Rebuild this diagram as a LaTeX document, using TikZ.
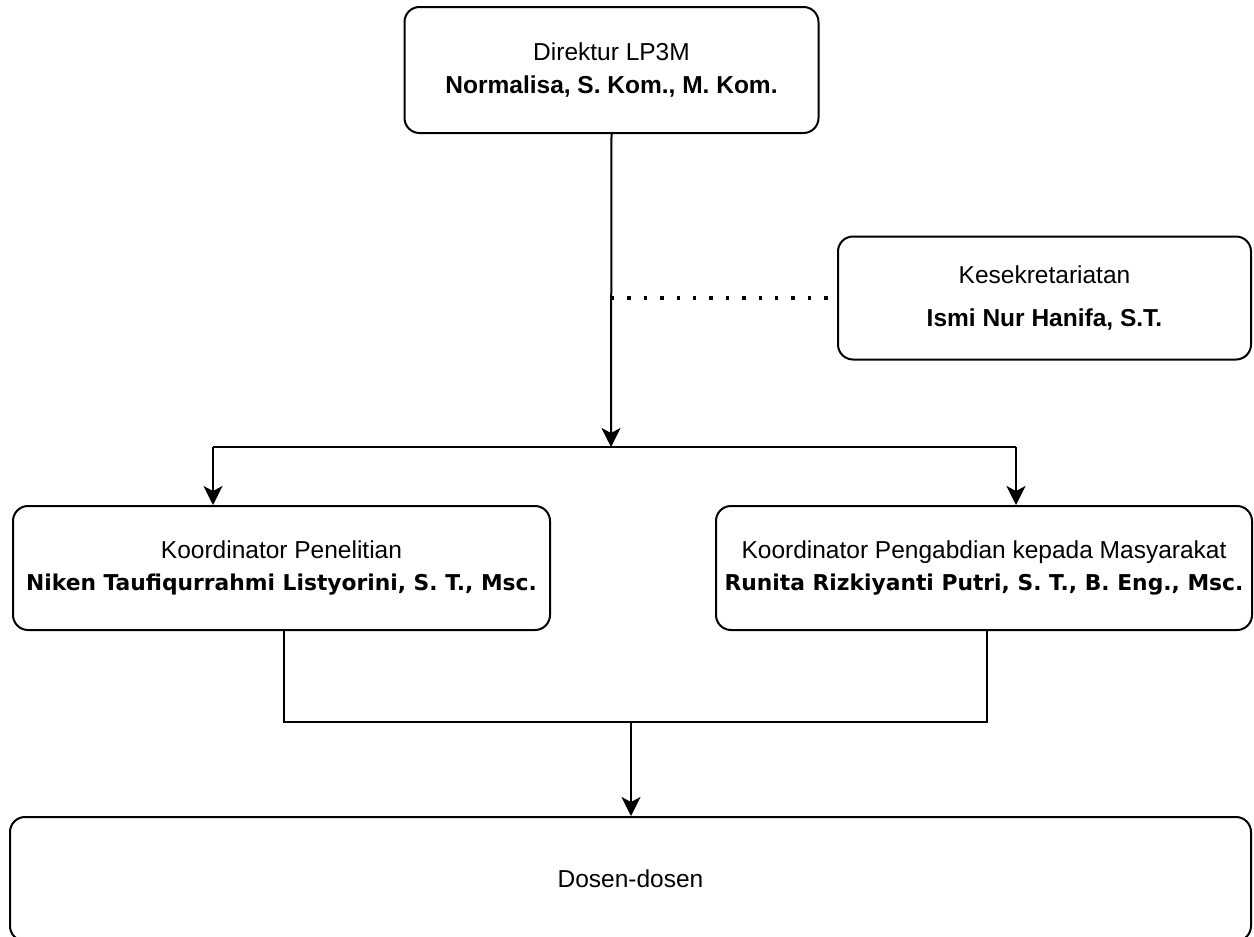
\documentclass[tikz,border=0pt]{standalone}
\usepackage{fontspec}
\setmainfont{Liberation Sans}
\newfontfamily\dejavu{DejaVu Sans}
\usetikzlibrary{arrows.meta}

\tikzset{
  box/.style={draw, line width=2pt, rounded corners=15pt, fill=white,
    align=center, inner sep=0pt},
  link/.style={line width=2pt},
  arr/.style={link, -{Stealth[length=19pt, width=19pt, inset=5pt]}},
  dots/.style={line width=3.4pt, dash pattern=on 3.4pt off 13pt},
  reg/.style={font=\fontsize{24.5}{32.5}\selectfont},
}
\newcommand{\bnarrow}[1]{{\bfseries #1}}
\newcommand{\bwide}[1]{{\dejavu\bfseries\fontsize{21.8}{32.5}\selectfont #1}}

\begin{document}
\begin{tikzpicture}[x=1pt, y=-1pt]
  \useasboundingbox (0,0) rectangle (1254,937);

  % units
  \node[box, reg, minimum width=414pt, minimum height=126pt] (dir) at (611.5,70)
    {Direktur LP3M\\\bnarrow{Normalisa, S. Kom., M. Kom.}};
  \node[box, reg, minimum width=413pt, minimum height=123pt] (sek) at (1044.5,298)
    {Kesekretariatan\\[10pt]\bnarrow{Ismi Nur Hanifa, S.T.}};
  \node[box, reg, minimum width=537pt, minimum height=124pt] (pen) at (281.5,568)
    {Koordinator Penelitian\\\bwide{Niken Taufiqurrahmi Listyorini, S. T., Msc.}};
  \node[box, reg, minimum width=536pt, minimum height=124pt] (pkm) at (984,568)
    {Koordinator Pengabdian kepada Masyarakat\\\bwide{Runita Rizkiyanti Putri, S. T., B. Eng., Msc.}};
  \node[box, reg, minimum width=1241pt, minimum height=124pt] (dsn) at (630.5,879)
    {Dosen-dosen};

  % junction points
  \coordinate (split) at (611,447);
  \coordinate (bl) at (213,447);
  \coordinate (br) at (1016,447);
  \coordinate (tap) at (611,298);
  \coordinate (ml) at (284,722);
  \coordinate (mr) at (987,722);
  \coordinate (mm) at (631,722);

  % connectors
  \draw[arr] (dir.south) -- (split);
  \draw[link] (bl) -- (br);
  \draw[arr] (bl) -- (bl |- pen.north);
  \draw[arr] (br) -- (br |- pkm.north);
  \draw[dots] (tap) -- (sek.west);
  \draw[link] (ml |- pen.south) -- (ml) -- (mr) -- (mr |- pkm.south);
  \draw[arr] (mm) -- (mm |- dsn.north);
\end{tikzpicture}
\end{document}
